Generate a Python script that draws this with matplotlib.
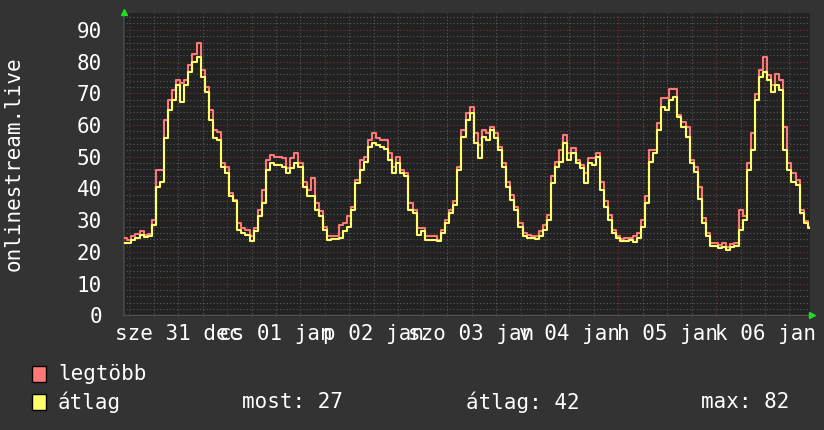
import numpy as np
import matplotlib
matplotlib.use("Agg")
import matplotlib.pyplot as plt
from matplotlib.patches import Rectangle
from matplotlib.transforms import blended_transform_factory

# ---------------- data (hourly samples, hour 0 = midnight of first day) ----------------
START_HOUR = -1
STEP_HOURS = 1

legtobb = [24.5, 23.9, 24.9, 25.8, 26.5, 25.4, 25.8, 30.0, 45.9, 45.9,
           61.6, 67.9, 71.0, 74.1, 73.1, 74.1, 78.8, 82.5, 85.7, 77.3,
           72.0, 64.7, 58.4, 57.9, 48.0, 46.9, 38.5, 36.4, 29.1, 27.5,
           27.0, 24.9, 27.5, 33.3, 39.6, 49.0, 50.6, 50.0, 50.0, 49.5,
           46.4, 49.5, 51.1, 48.0, 42.2, 39.6, 43.2, 35.4, 32.8, 28.0,
           24.9, 24.9, 24.9, 28.6, 29.1, 31.2, 34.3, 42.7, 49.0, 50.0,
           55.3, 57.4, 55.8, 55.3, 55.3, 51.1, 46.9, 50.0, 45.9, 44.8,
           35.4, 33.3, 27.5, 27.5, 24.9, 24.9, 24.9, 23.9, 27.0, 30.2,
           33.3, 35.9, 46.9, 58.4, 63.7, 65.8, 57.4, 53.7, 58.4, 57.4,
           59.5, 57.4, 53.2, 48.0, 42.2, 38.0, 34.3, 29.1, 26.0, 25.4,
           25.1, 25.1, 26.5, 28.6, 31.7, 43.8, 48.5, 52.1, 56.9, 51.1,
           52.7, 49.0, 47.5, 44.8, 49.5, 49.5, 51.1, 42.2, 35.9, 31.7,
           27.0, 25.1, 24.1, 24.4, 24.4, 24.9, 26.0, 30.2, 37.5, 52.1,
           52.1, 60.5, 68.4, 68.4, 71.5, 71.5, 63.1, 61.0, 59.5, 49.0,
           46.9, 40.5, 30.7, 26.0, 22.8, 22.8, 22.3, 22.8, 21.6, 22.6,
           22.8, 33.3, 31.2, 48.0, 57.4, 69.9, 77.3, 81.5, 75.7, 72.6,
           76.2, 74.1, 59.5, 48.0, 44.8, 42.7, 33.3, 29.6, 28.0]

atlag = [22.8, 22.8, 23.9, 24.4, 25.4, 24.7, 25.0, 28.6, 40.6, 42.0,
         56.0, 64.7, 67.9, 72.6, 67.3, 72.6, 76.8, 79.9, 81.5, 75.2,
         70.5, 61.6, 55.8, 55.3, 46.9, 44.8, 37.5, 35.9, 27.0, 26.0,
         25.4, 23.4, 26.5, 31.2, 35.4, 45.9, 48.0, 47.4, 47.4, 46.9,
         44.8, 46.4, 48.0, 46.9, 40.6, 37.5, 37.5, 33.3, 31.2, 27.0,
         23.9, 24.1, 24.1, 24.4, 26.5, 28.0, 33.3, 41.7, 45.9, 48.5,
         53.2, 54.2, 53.7, 53.2, 52.5, 49.0, 44.8, 48.0, 44.8, 43.8,
         33.3, 32.2, 25.4, 26.5, 23.9, 23.9, 23.9, 23.4, 26.0, 29.1,
         32.2, 34.9, 45.9, 56.3, 61.6, 63.7, 54.2, 49.5, 56.3, 55.3,
         58.4, 55.8, 52.1, 46.9, 40.6, 36.4, 33.3, 28.0, 24.9, 24.4,
         24.4, 24.1, 24.9, 27.0, 30.2, 41.7, 46.9, 48.5, 54.2, 49.0,
         51.1, 48.0, 46.6, 41.7, 48.0, 47.4, 50.0, 39.6, 34.3, 30.2,
         26.0, 24.4, 23.4, 23.4, 23.7, 23.0, 24.4, 28.0, 35.4, 48.5,
         51.1, 58.4, 65.8, 64.7, 67.9, 68.9, 62.6, 59.5, 56.3, 48.0,
         45.3, 36.7, 29.1, 24.9, 21.8, 22.0, 21.3, 21.6, 20.7, 21.6,
         21.8, 27.0, 30.2, 45.9, 52.1, 67.9, 75.2, 76.8, 74.1, 70.5,
         72.6, 71.0, 52.1, 45.9, 42.2, 41.2, 32.2, 29.1, 27.5]

day_labels = ["sze 31 dec", "cs 01 jan", "p 02 jan", "szo 03 jan",
              "v 04 jan", "h 05 jan", "k 06 jan"]
y_ticks = [0, 10, 20, 30, 40, 50, 60, 70, 80, 90]
y_title = "onlinestream.live"
legend_names = ["legtöbb", "átlag"]
stat_labels = ["most: 27", "átlag: 42", "max: 82"]

# ---------------- style ----------------
BG = "#333333"
CANVAS = "#222222"
MINOR = "#5a5a5a"
MAJOR = "#7a3333"
RED = "#ff7878"
YEL = "#ffff6a"
FONT = "DejaVu Sans Mono"
FS = 15
W, H = 824, 430

plt.rcParams["font.family"] = [FONT, "DejaVu Sans"]

fig = plt.figure(figsize=(W / 100, H / 100), dpi=100, facecolor=BG)
L, R, T, B = 123, 810, 13, 317
ax = fig.add_axes([L / W, 1 - B / H, (R - L) / W, (B - T) / H])
ax.set_facecolor(CANVAS)

hours = START_HOUR + STEP_HOURS * np.arange(len(atlag))
ax.set_xlim(-1.55, 167.04)
ax.set_ylim(-0.5, 95.3)

# grid
dots = (0, (1, 2))
for v in np.arange(2, 96, 2):
    if v % 10:
        ax.axhline(v, color=MINOR, lw=0.8, ls=dots, zorder=1)
for v in range(10, 91, 10):
    ax.axhline(v, color=MAJOR, lw=0.8, ls=dots, zorder=1)
for hh in range(0, 168, 6):
    if hh % 24:
        ax.axvline(hh, color=MINOR, lw=0.8, ls=dots, zorder=1)
for hh in range(0, 168, 24):
    ax.axvline(hh, color=MAJOR, lw=0.8, ls=dots, zorder=1)

ax.plot(hours, legtobb, color=RED, lw=1.5, drawstyle="steps-mid", zorder=3)
ax.plot(hours, atlag, color=YEL, lw=1.5, drawstyle="steps-mid", zorder=4)

for s in ax.spines.values():
    s.set_visible(False)
ax.axhline(0, color="#555555", lw=1.0, zorder=2)
ax.axvline(-1.55, color="#444444", lw=2.0, zorder=2)

ax.set_yticks(y_ticks)
ax.set_yticklabels([str(v) for v in y_ticks])
ax.set_xticks([12 + 24 * i for i in range(len(day_labels))])
ax.set_xticklabels(day_labels)
ax.tick_params(axis="both", length=0, colors="white", labelsize=FS)
ax.tick_params(axis="y", pad=15)
ax.tick_params(axis="x", pad=5)

# arrows
tr = blended_transform_factory(ax.transAxes, ax.transData)
ax.plot([1.003], [0], marker=">", color="#22dd22", ms=5, transform=tr, clip_on=False, zorder=5)
ax.plot([0.002], [1.003], marker="^", color="#22dd22", ms=5, transform=ax.transAxes, clip_on=False, zorder=5)

# y title
fig.text(14 / W, 1 - 164 / H, y_title, rotation=90, ha="center", va="center",
         color="white", fontsize=FS)

# legend
def fx(px):
    return px / W

def fy(py):
    return 1 - py / H

for name, col, yc in [(legend_names[0], RED, 374), (legend_names[1], YEL, 402)]:
    fig.patches.append(Rectangle((fx(32), fy(yc + 8)), 14 / W, 16 / H, transform=fig.transFigure,
                                 facecolor=col, edgecolor="black", lw=1))
    fig.text(fx(58), fy(yc), name, color="white", fontsize=FS, va="center", ha="left")

for txt, xp in zip(stat_labels, [242, 466, 701]):
    fig.text(fx(xp), fy(402), txt, color="white", fontsize=FS, va="center", ha="left")

fig.savefig("out.png", dpi=100, facecolor=BG)
